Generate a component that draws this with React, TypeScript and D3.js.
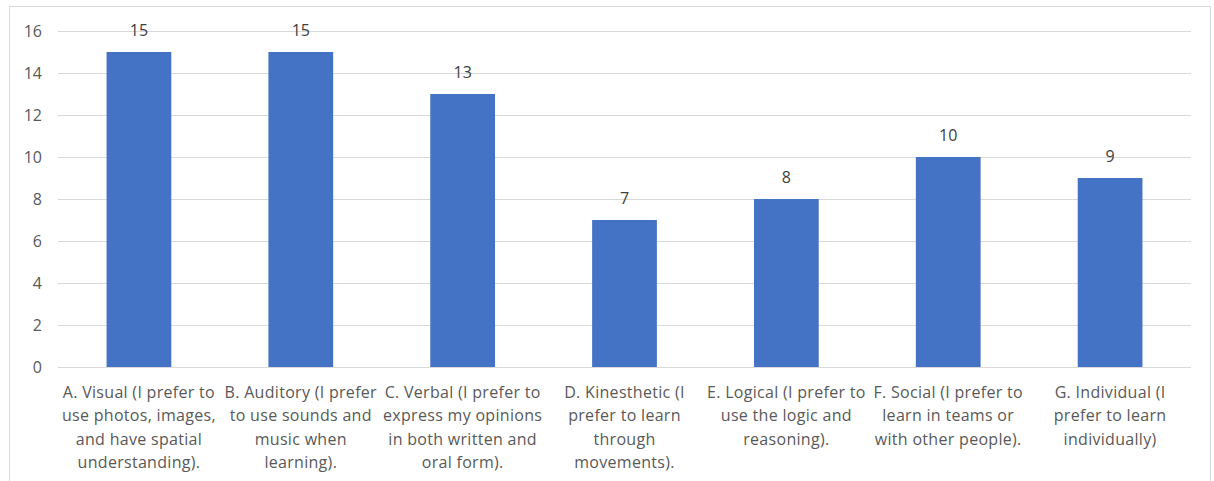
import { useRef, useEffect } from 'react';
import * as d3 from 'd3';

const categories = [
  ['A. Visual (I prefer to', 'use photos, images,', 'and have spatial', 'understanding).'],
  ['B. Auditory (I prefer', 'to use sounds and', 'music when', 'learning).'],
  ['C. Verbal (I prefer to', 'express my opinions', 'in both written and', 'oral form).'],
  ['D. Kinesthetic (I', 'prefer to learn', 'through', 'movements).'],
  ['E. Logical (I prefer to', 'use the logic and', 'reasoning).'],
  ['F. Social (I prefer to', 'learn in teams or', 'with other people).'],
  ['G. Individual (I', 'prefer to learn', 'individually)'],
];
const values = [15, 15, 13, 7, 8, 10, 9];
const yTicks = [0, 2, 4, 6, 8, 10, 12, 14, 16];

const W = 1214;
const H = 481;
const FONT = "'Open Sans', 'Liberation Sans', sans-serif";
const TEXT = '#595959';

export default function App() {
  const svgRef = useRef<SVGSVGElement>(null);

  useEffect(() => {
    const svg = d3.select(svgRef.current);
    svg.selectAll('*').remove();

    const left = 58;
    const right = 1191;
    const top = 31;
    const bottom = 367;

    // chart border
    svg.append('rect')
      .attr('x', 9.5)
      .attr('y', 6.5)
      .attr('width', 1201)
      .attr('height', 500)
      .attr('fill', '#fff')
      .attr('stroke', '#d9d9d9');

    const x = d3.scaleBand<number>()
      .domain(d3.range(values.length))
      .range([left, right])
      .paddingInner(0.6)
      .paddingOuter(0.3);
    const y = d3.scaleLinear().domain([0, 16]).range([bottom, top]);

    // gridlines + tick labels
    for (const t of yTicks) {
      svg.append('line')
        .attr('x1', left)
        .attr('x2', right)
        .attr('y1', Math.round(y(t)) + 0.5)
        .attr('y2', Math.round(y(t)) + 0.5)
        .attr('stroke', '#d9d9d9');
      svg.append('text')
        .attr('x', 42)
        .attr('y', y(t) + 5.5)
        .attr('text-anchor', 'end')
        .attr('fill', TEXT)
        .attr('font-size', '16px')
        .attr('font-family', FONT)
        .text(t);
    }

    // bars
    svg.append('g')
      .selectAll('rect')
      .data(values)
      .join('rect')
      .attr('x', (_, i) => x(i)!)
      .attr('y', (d) => y(d))
      .attr('width', x.bandwidth())
      .attr('height', (d) => bottom - y(d))
      .attr('fill', '#4472c4');

    // value labels
    svg.append('g')
      .selectAll('text')
      .data(values)
      .join('text')
      .attr('x', (_, i) => x(i)! + x.bandwidth() / 2)
      .attr('y', (d) => y(d) - 16)
      .attr('text-anchor', 'middle')
      .attr('fill', '#404040')
      .attr('font-size', '16px')
      .attr('font-family', FONT)
      .text((d) => d);

    // category labels
    categories.forEach((lines, i) => {
      const cx = x(i)! + x.bandwidth() / 2;
      const txt = svg.append('text')
        .attr('text-anchor', 'middle')
        .attr('fill', TEXT)
        .attr('font-size', '16px')
        .attr('letter-spacing', '0.3px')
        .attr('font-family', FONT);
      lines.forEach((ln, j) => {
        txt.append('tspan')
          .attr('x', cx)
          .attr('y', 398 + j * 23.3)
          .text(ln);
      });
    });
  }, []);

  return (
    <svg
      ref={svgRef}
      width={W}
      height={H}
      viewBox={`0 0 ${W} ${H}`}
      style={{ position: 'absolute', left: 0, top: 0, display: 'block' }}
    />
  );
}
